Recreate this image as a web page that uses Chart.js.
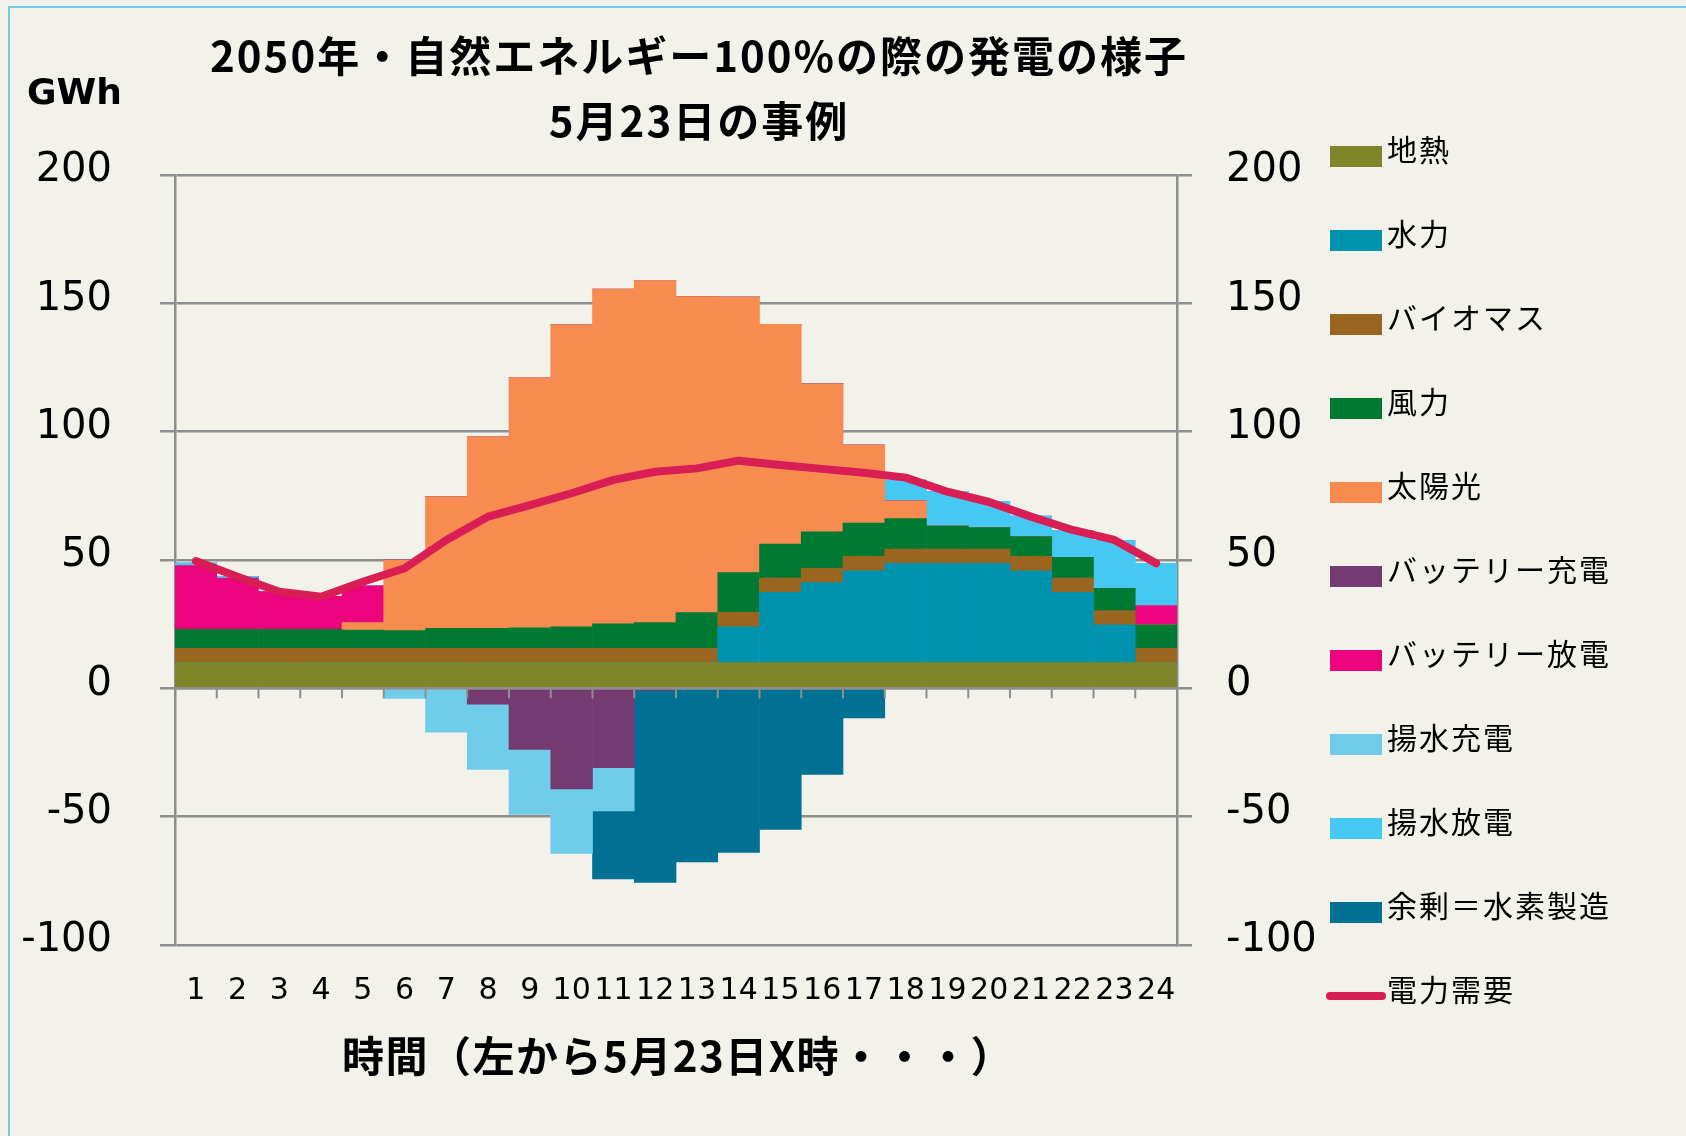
<!DOCTYPE html>
<html lang="ja">
<head>
<meta charset="utf-8">
<title>2050年・自然エネルギー100%の際の発電の様子</title>
<script src="https://cdn.jsdelivr.net/npm/chart.js@4.4.1/dist/chart.umd.min.js"></script>
<style>
  html, body { margin: 0; padding: 0; background: #f2f1ea; }
  body { width: 1686px; height: 1136px; overflow: hidden; position: relative; }
  .frame { position: absolute; left: 8px; top: 6px; width: 1720px; height: 1200px; border: 2px solid #6ccbee; box-sizing: border-box; }
  #wrap { position: absolute; left: 0; top: 0; width: 1686px; height: 1136px; }
</style>
</head>
<body>
<div class="frame"></div>
<div id="wrap"><canvas id="energyChart" width="1686" height="1136"></canvas></div>
<script>
// --- data (GWh per hour, 5/23) ---
const hours = ['1','2','3','4','5','6','7','8','9','10','11','12','13','14','15','16','17','18','19','20','21','22','23','24'];
const geothermal = [10,10,10,10,10,10,10,10,10,10,10,10,10,10,10,10,10,10,10,10,10,10,10,10];
const hydro      = [0,0,0,0,0,0,0,0,0,0,0,0,0,14,27.4,31.2,35.8,38.7,38.7,38.7,35.8,27.4,14.7,0];
const biomass    = [5.6,5.6,5.6,5.6,5.6,5.6,5.6,5.6,5.6,5.6,5.6,5.6,5.6,5.6,5.6,5.6,5.6,5.6,5.6,5.6,5.6,5.6,5.6,5.6];
const wind       = [7.4,7.4,7.4,7.4,7.1,6.9,7.8,7.8,8.0,8.4,9.5,10.0,13.9,15.5,13.2,14.2,13.0,11.8,8.9,8.3,7.7,8.0,8.7,9.1];
const solar      = [0,0,0,0,2.9,27.5,51.3,74.7,97.5,117.6,130.5,133.3,123.1,107.3,85.6,57.6,30.4,7.0,0,0,0,0,0,0];
const batteryCharge    = [0,0,0,0,0,0,0,-6.2,-23.8,-39.2,-30.9,-0.8,0,0,0,0,0,0,0,0,0,0,0,0];
const batteryDischarge = [24.8,20.0,14.7,12.8,14.3,0,0,0,0,0,0,0,0,0,0,0,0,0,0,0,0,0,0,7.5];
const pumpCharge       = [0,0,0,0,0,-3.9,-17.1,-25.4,-25.3,-25.1,-16.9,0,0,0,0,0,0,0,0,0,0,0,0,0];
const pumpDischarge    = [1.0,0.6,0,0,0,0,0,0,0,0,0,0,0,0,0,0,0,8.0,13.6,10.1,8.0,10.5,18.5,16.5];
const surplus          = [0,0,0,0,0,0,0,0,0,0,-26.5,-74.8,-67.6,-63.9,-55.0,-33.5,-11.5,0,0,0,0,0,0,0];
const demand = [49.6,43.5,37.6,35.7,41.5,46.8,57.8,66.9,71.4,76.0,81.2,84.4,85.7,88.7,87.0,85.5,84.0,82.1,76.6,72.6,66.9,61.7,57.8,48.7];
const yTickValues = [-100, -50, 0, 50, 100, 150, 200];

const titleLines = ['2050年・自然エネルギー100%の際の発電の様子', '5月23日の事例'];
const unitLabel = 'GWh';
const xTitle = '時間（左から5月23日X時・・・）';

const GRID = '#8e8e8e';
const JP = '"Noto Sans CJK JP", "Noto Sans", sans-serif';

function bar(label, data, color) {
  return { type: 'bar', label, data, backgroundColor: color, borderWidth: 0, stack: 'gen', order: 1,
           categoryPercentage: 1.0, barPercentage: 1.0 };
}

// --- texts, zero line, legend ---
const decorations = {
  id: 'decorations',
  afterDatasetsDraw(chart) {
    const { ctx, scales: { x, y } } = chart;
    const zero = y.getPixelForValue(0);
    ctx.save();
    ctx.strokeStyle = GRID;
    ctx.lineWidth = 2.5;
    ctx.beginPath();
    ctx.moveTo(x.left, zero);
    ctx.lineTo(x.right, zero);
    ctx.stroke();
    // category separators on the zero line
    const w = x.width / hours.length;
    ctx.lineWidth = 2;
    for (let i = 1; i < hours.length; i++) {
      const px = x.left + i * w;
      ctx.beginPath();
      ctx.moveTo(px, zero);
      ctx.lineTo(px, zero + 10);
      ctx.stroke();
    }
    ctx.restore();
  },
  afterDraw(chart) {
    const { ctx } = chart;
    ctx.save();
    ctx.fillStyle = '#000';
    ctx.textBaseline = 'middle';

    ctx.textAlign = 'center';
    ctx.font = 'bold 42px ' + JP;
    ctx.letterSpacing = '2px';
    ctx.fillText(titleLines[0], 699, 56);
    ctx.fillText(titleLines[1], 699, 121);
    ctx.letterSpacing = '1.5px';
    ctx.fillText(xTitle, 678, 1056);
    ctx.letterSpacing = '0px';

    ctx.textAlign = 'left';
    ctx.font = 'bold 36px "DejaVu Sans"';
    ctx.fillText(unitLabel, 27, 95);

    // legend
    ctx.font = '30px ' + JP;
    chart.data.datasets.forEach((ds, i) => {
      const rowY = 156 + i * 84;
      if (ds.type === 'line') {
        ctx.strokeStyle = ds.borderColor;
        ctx.lineWidth = 8;
        ctx.lineCap = 'round';
        ctx.beginPath();
        ctx.moveTo(1330, rowY);
        ctx.lineTo(1382, rowY);
        ctx.stroke();
      } else {
        ctx.fillStyle = ds.backgroundColor;
        ctx.fillRect(1330, rowY - 10, 52, 21);
      }
      ctx.fillStyle = '#000';
      ctx.letterSpacing = '2px';
      ctx.fillText(ds.label, 1387, rowY - 6);
      ctx.letterSpacing = '0px';
    });
    ctx.restore();
  }
};

new Chart(document.getElementById('energyChart'), {
  data: {
    labels: hours,
    datasets: [
      bar('地熱', geothermal, '#7f8629'),
      bar('水力', hydro, '#0093b0'),
      bar('バイオマス', biomass, '#9a651e'),
      bar('風力', wind, '#007a33'),
      bar('太陽光', solar, '#f78b50'),
      bar('バッテリー充電', batteryCharge, '#763a73'),
      bar('バッテリー放電', batteryDischarge, '#ec047f'),
      bar('揚水充電', pumpCharge, '#70cdea'),
      bar('揚水放電', pumpDischarge, '#46c8f5'),
      bar('余剰＝水素製造', surplus, '#007192'),
      {
        type: 'line', label: '電力需要', data: demand, stack: 'demand', order: 0,
        borderColor: '#d91e56', borderWidth: 8, pointRadius: 0, tension: 0,
        borderCapStyle: 'round', borderJoinStyle: 'round', fill: false
      }
    ]
  },
  options: {
    responsive: false,
    animation: false,
    devicePixelRatio: 1,
    layout: { padding: { left: 0, right: 369, top: 175, bottom: 131 } },
    plugins: { legend: { display: false }, title: { display: false }, tooltip: { enabled: false } },
    scales: {
      x: {
        stacked: true,
        grid: { display: false },
        border: { display: false },
        ticks: { color: '#000', font: { family: 'DejaVu Sans', size: 30 }, padding: 20, autoSkip: false, maxRotation: 0 },
        afterFit: (s) => { s.height = 60; }
      },
      y: {
        stacked: true,
        min: -100, max: 200,
        afterBuildTicks: (s) => { s.ticks = yTickValues.map(v => ({ value: v })); },
        grid: { color: GRID, lineWidth: 2.5, drawTicks: true, tickLength: 15, tickColor: GRID },
        border: { display: true, color: GRID, width: 2.5 },
        ticks: { color: '#000', font: { family: 'DejaVu Sans', size: 40 }, padding: 48, labelOffset: -4 },
        afterFit: (s) => { s.width = 175; }
      },
      y2: {
        position: 'right',
        min: -100, max: 200,
        afterBuildTicks: (s) => { s.ticks = yTickValues.map(v => ({ value: v })); },
        grid: { drawOnChartArea: false, color: GRID, lineWidth: 2.5, drawTicks: true, tickLength: 15, tickColor: GRID },
        border: { display: true, color: GRID, width: 2.5 },
        ticks: { color: '#000', font: { family: 'DejaVu Sans', size: 40 }, padding: 34, labelOffset: -4 },
        afterFit: (s) => { s.width = 140; }
      }
    }
  },
  plugins: [decorations]
});
</script>
</body>
</html>
